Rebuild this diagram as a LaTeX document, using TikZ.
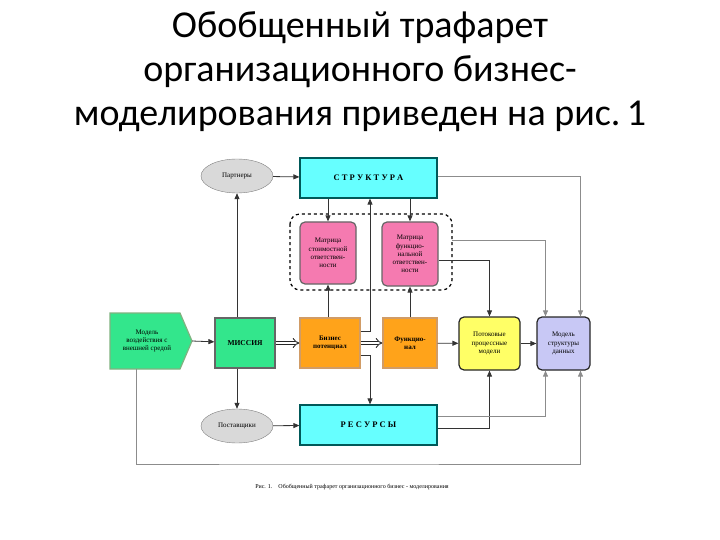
\documentclass[tikz,border=0pt]{standalone}
\usepackage{fontspec}
\setmainfont{Liberation Serif}
\newfontfamily\titlefont{Carlito}
\usetikzlibrary{arrows.meta,shapes.geometric,shapes.symbols}
\definecolor{cyanb}{HTML}{66FFFF}
\definecolor{grn}{HTML}{33E68C}
\definecolor{org}{HTML}{FFA31A}
\definecolor{pnk}{HTML}{F57AB0}
\definecolor{lav}{HTML}{C8C8F5}
\definecolor{yel}{HTML}{FFFF66}
\begin{document}
\begin{tikzpicture}[x=1pt,y=-1pt,
  ln/.style={draw=black!80,line width=0.8pt,-{Triangle[length=6pt,width=5pt]}},
  gl/.style={draw=black!45,line width=0.9pt,-{Triangle[length=6pt,width=5pt]}},
  dbl/.style={double,double distance=2.5pt,line width=0.9pt,-{Implies[length=5pt]},draw=black!85},
  bx/.style={draw=black!60,line width=1.2pt,align=center,inner sep=1pt,font=\fontsize{7}{8.2}\selectfont},
  ell/.style={ellipse,draw=black!50,fill=black!15,minimum width=72pt,minimum height=34pt,font=\fontsize{7}{8}\selectfont},
  big/.style={bx,fill=cyanb,draw=teal!70!black,minimum width=137pt,minimum height=40pt,font=\fontsize{8.5}{9}\selectfont\bfseries}]
\useasboundingbox (0,0) rectangle (720,540);
\node[font=\titlefont\fontsize{38}{44}\selectfont,align=center] (title) at (360,72) {Обобщенный трафарет\\организационного бизнес-\\моделирования приведен на рис.\,1};
\node[ell] (part) at (237,176) {Партнеры};
\node[ell] (post) at (237,426) {Поставщики};
\node[big] (str) at (368.5,178) {С Т Р У К Т У Р А};
\node[big] (res) at (368.5,425) {Р Е С У Р С Ы};
\draw[dashed,line width=1.2pt,rounded corners=10pt] (290,214) rectangle (452,290);
\node[bx,fill=pnk,rounded corners=5pt,minimum width=56pt,minimum height=62pt] (m1) at (328,253) {Матрица\\стоимостной\\ответствен-\\ности};
\node[bx,fill=pnk,rounded corners=5pt,minimum width=56pt,minimum height=64pt] (m2) at (410,254) {Матрица\\функцио-\\нальной\\ответствен-\\ности};
\draw[draw=green!40!black!50,line width=1.2pt,fill=grn] (110,313) -- (180,313) -- (192,341) -- (180,369) -- (110,369) -- cycle;
\node[align=center,font=\fontsize{7}{8.2}\selectfont] (env) at (147,341) {Модель\\воздействия с\\внешней средой};
\node[bx,fill=grn,minimum width=60pt,minimum height=50pt,font=\fontsize{7.5}{8}\selectfont\bfseries] (mis) at (245,343) {МИССИЯ};
\node[bx,fill=org,draw=orange!70!black!60,minimum width=60pt,minimum height=50pt,font=\fontsize{7}{8.2}\selectfont\bfseries] (biz) at (330,343) {Бизнес\\потенциал};
\node[bx,fill=org,draw=orange!70!black!60,minimum width=54pt,minimum height=50pt,font=\fontsize{7}{8.2}\selectfont\bfseries] (fun) at (410,343) {Функцио-\\нал};
\node[bx,fill=yel,draw=black!85,rounded corners=5pt,minimum width=61pt,minimum height=53pt] (flow) at (489.5,343.5) {Потоковые\\процессные\\модели};
\node[bx,fill=lav,draw=black!85,rounded corners=5pt,minimum width=53pt,minimum height=53pt] (data) at (563.5,343.5) {Модель\\структуры\\данных};
\node[font=\fontsize{6}{7}\selectfont] (cap) at (352,487) {Рис. 1.\quad Обобщенный трафарет организационного бизнес - моделирования};
\coordinate (dbox) at (452,240);
\coordinate (envr) at (192,341);
\coordinate (envb) at (136,369);
% connectors
\draw[ln] (part) -- (str);
\draw[ln] (post) -- (res);
\draw[ln] (mis.north -| part) -- (part);
\draw[ln] (mis.south -| post) -- (post);
\draw[ln] (str.south -| m1) -- (m1);
\draw[ln] (str.south -| m2) -- (m2);
\draw[ln] (biz.north -| m1) -- (m1);
\draw[ln] (fun.north -| m2) -- (m2);
\draw[ln] ([yshift=12pt]biz.east) -| (str.south -| 370,0);
\draw[ln] ([yshift=-12pt]biz.east) -| (res.north -| 370,0);
\draw[ln] (envr) -- (mis);
\draw[dbl] (mis) -- (biz);
\draw[dbl] (biz) -- (fun);
\draw[ln] (fun) -- (flow);
\draw[ln] (flow) -- (data);
\draw[ln] ([yshift=-6pt]m2.east) -| (flow.north);
\draw[gl] (dbox) -| ([xshift=-18pt]data.north);
\draw[gl] ([yshift=2pt]str.east) -| ([xshift=17pt]data.north);
\draw[ln] ([yshift=-3pt]res.east) -| (flow.south);
\draw[gl] ([yshift=9pt]res.east) -| ([xshift=-18pt]data.south);
\draw[gl] (envb) |- (300,464) -| ([xshift=17pt]data.south);
\end{tikzpicture}
\end{document}
